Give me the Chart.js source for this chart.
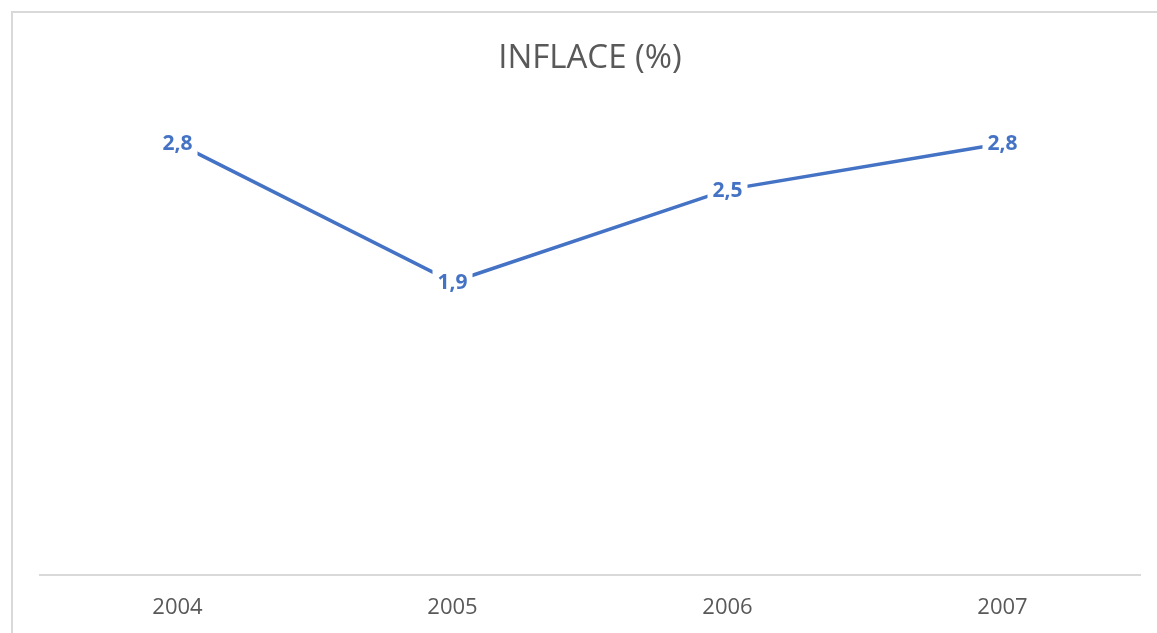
<!DOCTYPE html>
<html>
<head>
<meta charset="utf-8">
<script src="https://cdn.jsdelivr.net/npm/chart.js@4"></script>
<style>
  html, body { margin: 0; padding: 0; background: #fff; overflow: hidden; }
  #frame { position: absolute; left: 11px; top: 11px; width: 1146px; height: 622px;
           border-left: 2px solid #d9d9d9; border-top: 2px solid #d9d9d9; box-sizing: border-box; }
  #wrap { position: absolute; left: 0; top: 0; width: 1157px; height: 633px; overflow: hidden; }
</style>
</head>
<body>
<div id="frame"></div>
<div id="wrap"><canvas id="chart" width="1157" height="653"></canvas></div>
<script>
// data
const years = ['2004', '2005', '2006', '2007'];
const inflace = [2.8, 1.9, 2.5, 2.8];
const blue = '#4472C4';

// labels like "2,8" sitting on the points, white box hides the line behind
const pointLabels = {
  id: 'pointLabels',
  afterDatasetsDraw(chart) {
    const ctx = chart.ctx;
    const meta = chart.getDatasetMeta(0);
    ctx.save();
    ctx.font = 'bold 21px "Open Sans"';
    ctx.textAlign = 'center';
    ctx.textBaseline = 'middle';
    meta.data.forEach((pt, i) => {
      const txt = inflace[i].toFixed(1).replace('.', ',');
      const w = ctx.measureText(txt).width;
      ctx.fillStyle = '#fff';
      ctx.fillRect(pt.x - w / 2 - 5, pt.y - 14, w + 10, 28);
      ctx.fillStyle = blue;
      ctx.fillText(txt, pt.x, pt.y + 1);
    });
    ctx.restore();
  }
};

new Chart(document.getElementById('chart'), {
  type: 'line',
  data: {
    labels: years,
    datasets: [{
      label: 'Inflace',
      data: inflace,
      borderColor: blue,
      borderWidth: 3.5,
      pointRadius: 0,
      fill: false,
      tension: 0
    }]
  },
  options: {
    responsive: false,
    animation: false,
    layout: { padding: { left: 40, right: 17, top: 0, bottom: 12 } },
    plugins: {
      legend: { display: false },
      tooltip: { enabled: false },
      title: {
        display: true,
        text: 'INFLACE (%)',
        color: '#595959',
        font: { family: '"Open Sans"', size: 33, weight: 'normal' },
        padding: { top: 39, bottom: 34 }
      }
    },
    scales: {
      x: {
        offset: true,
        grid: { display: false, drawTicks: false },
        border: { display: true, color: '#d9d9d9', width: 2 },
        ticks: { color: '#595959', font: { family: '"Open Sans"', size: 22 }, padding: 20 }
      },
      y: { display: false, min: 0, max: 3 }
    }
  },
  plugins: [pointLabels]
});
</script>
</body>
</html>
